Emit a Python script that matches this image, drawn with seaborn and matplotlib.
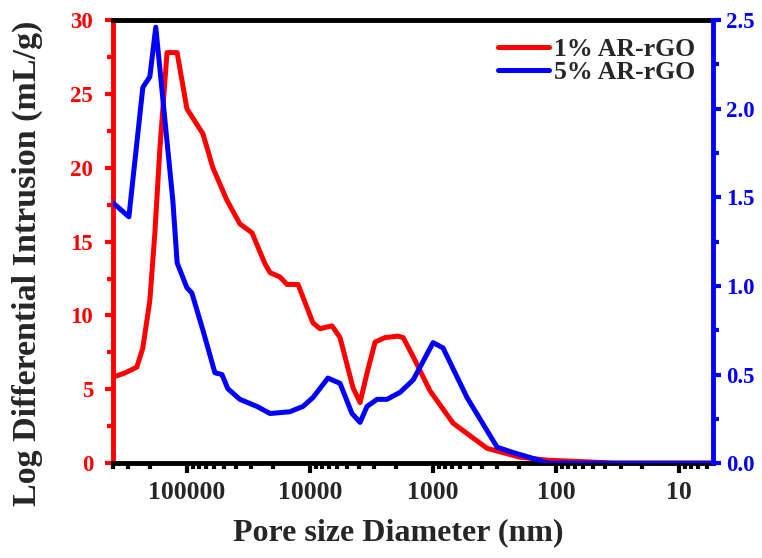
import numpy as np
import pandas as pd
import matplotlib
matplotlib.use("Agg")
import matplotlib.pyplot as plt
import seaborn as sns
from matplotlib.ticker import LogLocator, FuncFormatter, MultipleLocator
from matplotlib.lines import Line2D

# =========================
# DATA
# =========================
# 1% AR-rGO (left axis)
d1 = [400000, 320000, 255000, 228000, 200000, 182000, 166000, 145000, 120000,
      100000, 74100, 61500, 47300, 37100, 29600, 23200, 21100, 17500, 15400,
      12500, 9460, 8300, 6630, 5700, 4470, 3920, 3440, 2960, 2460, 1930, 1750,
      1450, 1060, 687, 364, 196, 118, 50, 34.4, 5.3]
v1 = [5.82, 6.1, 6.5, 7.8, 11.0, 15.6, 21.2, 27.8, 27.8,
      24.0, 22.3, 20.0, 17.8, 16.2, 15.6, 13.5, 12.9, 12.6, 12.1,
      12.1, 9.5, 9.1, 9.3, 8.5, 5.1, 4.1, 6.1, 8.2, 8.5, 8.6, 8.5,
      7.2, 4.9, 2.7, 1.0, 0.4, 0.2, 0.07, 0.0, 0.0]

# 5% AR-rGO (right axis)
d5 = [400000, 296000, 228000, 200000, 179000, 166000, 130000, 120000, 100000,
      91100, 74100, 59200, 51900, 46500, 37100, 27000, 21100, 14600, 11400,
      9460, 7150, 5700, 4560, 3920, 3440, 2850, 2370, 1850, 1450, 1000, 830,
      530, 302, 224, 143, 118, 5.3]
v5 = [1.47, 1.39, 2.12, 2.18, 2.46, 2.23, 1.48, 1.13, 0.99,
      0.96, 0.75, 0.51, 0.50, 0.42, 0.36, 0.32, 0.28, 0.29, 0.32,
      0.37, 0.48, 0.45, 0.28, 0.23, 0.32, 0.36, 0.36, 0.40, 0.47, 0.68, 0.65,
      0.37, 0.09, 0.06, 0.02, 0.0, 0.0]

labels = ["1% AR-rGO", "5% AR-rGO"]
xticks = [100000, 10000, 1000, 100, 10]

df1 = pd.DataFrame({"d": d1, "v": v1})
df5 = pd.DataFrame({"d": d5, "v": v5})

# =========================
# STYLE
# =========================
sns.set_style("white")
plt.rcParams["font.family"] = ["Liberation Serif", "DejaVu Serif"]
plt.rcParams["font.weight"] = "bold"

RED = "#ff0000"
BLUE = "#0000ff"

fig = plt.figure(figsize=(7.62, 5.58), dpi=100)
ax = fig.add_axes([0.148, 0.170, 0.788, 0.794])
ax2 = ax.twinx()

sns.lineplot(data=df1, x="d", y="v", ax=ax, color=RED, lw=3.6, sort=False)
sns.lineplot(data=df5, x="d", y="v", ax=ax2, color=BLUE, lw=3.6, sort=False)

ax.set_xscale("log")
ax.set_xlim(400000, 5.3)
ax.set_ylim(0, 30)
ax2.set_ylim(0, 2.5)

# x ticks
ax.set_xticks(xticks)
ax.xaxis.set_minor_locator(LogLocator(base=10, subs=np.arange(2, 10), numticks=20))
ax.xaxis.set_major_formatter(FuncFormatter(lambda v, p: f"{int(round(v))}"))
ax.tick_params(axis="x", which="major", bottom=True, direction="out", length=7, width=3,
               labelsize=18.5, color="black", pad=6)
ax.tick_params(axis="x", which="minor", bottom=True, direction="out", length=4, width=3,
               color="black")

# left y
ax.yaxis.set_major_locator(MultipleLocator(5))
ax.yaxis.set_minor_locator(MultipleLocator(2.5))
ax.tick_params(axis="y", which="major", left=True, direction="out", length=6, width=3,
               color=RED, labelcolor=RED, labelsize=16.5, pad=8)
ax.tick_params(axis="y", which="minor", left=True, direction="out", length=4, width=3,
               color=RED)

# right y
ax2.yaxis.set_major_locator(MultipleLocator(0.5))
ax2.yaxis.set_minor_locator(MultipleLocator(0.25))
ax2.yaxis.set_major_formatter(FuncFormatter(lambda v, p: f"{v:.1f}"))
ax2.tick_params(axis="y", which="major", right=True, direction="out", length=6, width=3,
                color=BLUE, labelcolor=BLUE, labelsize=16.5, pad=3)
ax2.tick_params(axis="y", which="minor", right=True, direction="out", length=4, width=3,
                color=BLUE)

for lab in ax.get_xticklabels() + ax.get_yticklabels() + ax2.get_yticklabels():
    lab.set_fontweight("bold")

# spines
for a in (ax, ax2):
    for s in a.spines.values():
        s.set_linewidth(3.5)
        s.set_color("black")
ax.spines["left"].set_color(RED)
ax.spines["right"].set_visible(False)
ax2.spines["left"].set_visible(False)
ax2.spines["right"].set_color(BLUE)
ax2.spines["top"].set_visible(False)
ax2.spines["bottom"].set_visible(False)

ax.set_xlabel("Pore size Diameter (nm)", fontsize=23, fontweight="bold")
ax.set_ylabel("Log Differential Intrusion (mL/g)", fontsize=24.5, fontweight="bold")
ax.xaxis.set_label_coords(0.475, -0.125)
ax.yaxis.set_label_coords(-0.117, 0.45)
ax2.set_ylabel("")

handles = [Line2D([], [], color=RED, lw=3.6), Line2D([], [], color=BLUE, lw=3.6)]
ax2.legend(handles, labels, loc="upper right", frameon=False,
           prop={"weight": "bold", "size": 18.5}, handlelength=2.0,
           handletextpad=0.2, labelspacing=0.0, borderaxespad=0.3)

fig.savefig("out.png", dpi=100)
